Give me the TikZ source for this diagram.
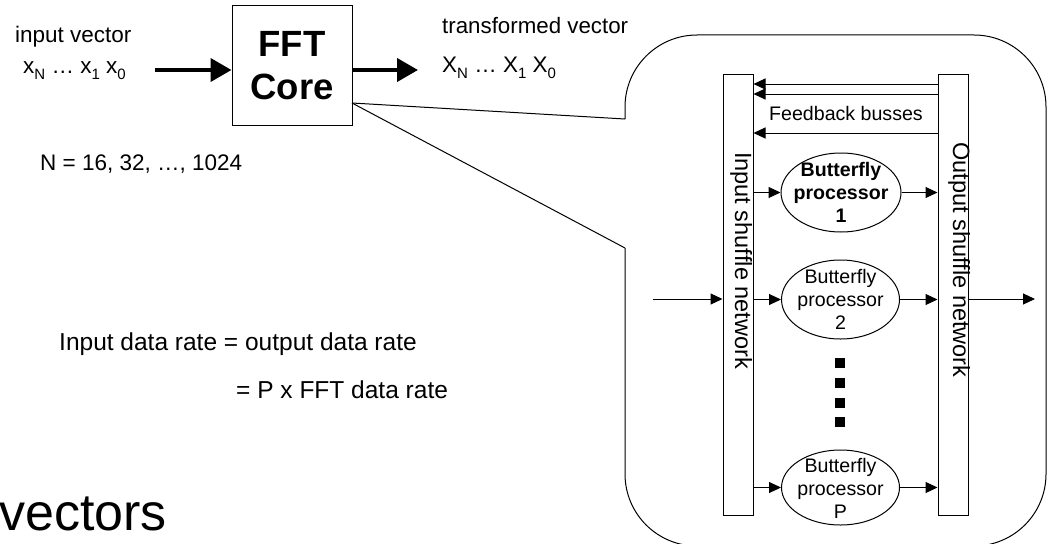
\documentclass[tikz,border=0pt]{standalone}
\usepackage{fontspec}
\setmainfont[Ligatures={NoCommon}]{Liberation Sans}
\usetikzlibrary{arrows.meta,shapes.geometric}
\newcommand{\fsz}[2]{\fontsize{#1}{#2}\selectfont}
\newcommand{\subtxt}[1]{\raisebox{-6.5pt}{\fontsize{15}{15}\selectfont #1}}
\newcommand{\shuf}{shuf\kern0pt f\kern0pt le}
\begin{document}
\begin{tikzpicture}[x=1pt,y=-1pt,
  lw/.style={line width=1pt},
  thinarrow/.style={line width=1pt,-{Triangle[length=12pt,width=11pt]}},
  thickarrow/.style={line width=4pt,-{Triangle[length=21pt,width=23pt]}},
  lbl/.style={inner sep=0pt,anchor=base west},
  shuffle/.style={draw,line width=1pt,minimum width=30pt,minimum height=441pt,inner sep=0pt},
  bfly/.style={draw,ellipse,line width=1pt,minimum width=118pt,inner sep=0pt},
  bflytext/.style={inner sep=0pt,align=center,font=\fsz{19.6}{23}},
  sq/.style={fill=black,minimum size=10pt,inner sep=0pt}
]
\useasboundingbox (0,0) rectangle (1048,543);
\clip (0,0) rectangle (1048,543);

% FFT core
\node[draw,lw,minimum width=120pt,minimum height=119pt,inner sep=0pt,align=center,font=\fsz{36.5}{43}\bfseries] (fft) at (292,65.5) {FFT\\Core};

\node[lbl,font=\fsz{22.5}{27}] (inv) at (15,43) {input vector};
\node[lbl,font=\fsz{22.5}{27}] (xs) at (23,73) {x\subtxt{N} … x\subtxt{1} x\subtxt{0}};
\node[lbl,font=\fsz{22.3}{27}] (trv) at (442,34) {transformed vector};
\node[lbl,font=\fsz{22.5}{27}] (Xs) at (442,72) {X\subtxt{N} … X\subtxt{1} X\subtxt{0}};
\node[lbl,font=\fsz{22.5}{27}] (nn) at (40,170) {N = 16, 32, …, 1024};
\node[lbl,font=\fsz{24.5}{29}] (rate1) at (59,350) {Input data rate = output data rate};
\node[lbl,font=\fsz{24.5}{29}] (rate2) at (236,398) {= P x FFT data rate};
\node[lbl,font=\fsz{52}{60}] (vec) at (-1,530) {vectors};

\coordinate (inS) at (155,70);
\coordinate (outE) at (418,70);
\draw[thickarrow] (inS) -- (fft.west |- inS);
\draw[thickarrow] (fft.east |- outE) -- (outE);

% callout
\coordinate (cp) at (352,103);
\coordinate (ct) at (625,119);
\coordinate (cb) at (625,248);
\draw[lw] (cp) -- (ct);
\draw[lw] (cp) -- (cb);
\draw[lw,rounded corners=72pt] (ct) -- (625,35) -- (1046,35) -- (1046,546) -- (625,546) -- (cb);

% shuffle networks
\node[shuffle] (ins) at (738,294.5) {};
\node[shuffle] (outs) at (953,294.5) {};
\node[inner sep=0pt,anchor=base west,rotate=-90,font=\fsz{23.5}{28}] (inslbl) at (735,152) {Input \shuf{} network};
\node[inner sep=0pt,anchor=base west,rotate=-90,font=\fsz{23.5}{28}] (outslbl) at (953,142) {Output \shuf{} network};

% feedback busses
\coordinate (f1) at (938,84);
\coordinate (f2) at (938,94);
\coordinate (f3) at (938,133);
\draw[thinarrow] (f1) -- (ins.east |- f1);
\draw[thinarrow] (f2) -- (ins.east |- f2);
\draw[thinarrow] (f3) -- (ins.east |- f3);
\node[inner sep=0pt,font=\fsz{19.6}{23}] (fb) at (846,113) {Feedback busses};

% butterflies
\node[bfly,minimum height=79pt,minimum width=120pt] (b1) at (841,192.5) {};
\node[bflytext,font=\fsz{19.6}{23}\bfseries] (b1t) at (b1.center) {Butterfly\\processor\\1};
\node[bfly,minimum height=79pt] (b2) at (840.5,299.5) {};
\node[bflytext] (b2t) at (b2.center) {Butterfly\\processor\\2};
\node[bfly,minimum height=75pt] (bp) at (840.5,487.5) {};
\node[bflytext] (bpt) at ([yshift=-1pt]bp.center) {Butterfly\\processor\\P};

\foreach \b in {b1,b2,bp}{
  \draw[thinarrow] (ins.east |- \b.west) -- (\b.west);
  \draw[thinarrow] (\b.east) -- (outs.west |- \b.east);
}

% dots
\node[sq] (d1) at (840,363) {};
\node[sq] (d2) at (840,383) {};
\node[sq] (d3) at (840,402.5) {};
\node[sq] (d4) at (840,422) {};

% input / output
\coordinate (inL) at (653,299);
\coordinate (outR) at (1035,299);
\draw[thinarrow] (inL) -- (ins.west |- inL);
\draw[thinarrow] (outs.east |- outR) -- (outR);
\end{tikzpicture}
\end{document}
